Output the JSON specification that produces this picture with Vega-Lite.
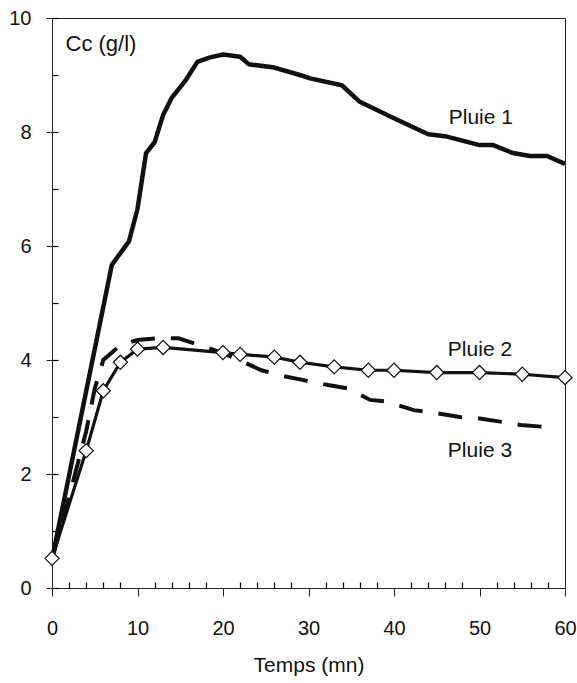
{
  "$schema": "https://vega.github.io/schema/vega-lite/v6.json",
  "width": 513,
  "height": 570,
  "autosize": "none",
  "padding": {"left": 52, "top": 18, "right": 12, "bottom": 95},
  "background": "white",
  "config": {
    "font": "Liberation Sans",
    "view": {"stroke": "#222", "strokeWidth": 1},
    "axis": {"domainColor": "#222", "tickColor": "#222", "labelColor": "#111", "titleColor": "#111", "grid": false, "domainWidth": 1, "tickWidth": 1}
  },
  "datasets": {
    "curves": [
      {"serie": "Pluie 1", "t": 0, "c": 0.5},
      {"serie": "Pluie 1", "t": 7, "c": 5.67},
      {"serie": "Pluie 1", "t": 9, "c": 6.08},
      {"serie": "Pluie 1", "t": 10, "c": 6.65},
      {"serie": "Pluie 1", "t": 11, "c": 7.63},
      {"serie": "Pluie 1", "t": 12, "c": 7.82},
      {"serie": "Pluie 1", "t": 13, "c": 8.3},
      {"serie": "Pluie 1", "t": 14, "c": 8.6},
      {"serie": "Pluie 1", "t": 15.6, "c": 8.9},
      {"serie": "Pluie 1", "t": 17, "c": 9.23},
      {"serie": "Pluie 1", "t": 18.5, "c": 9.31},
      {"serie": "Pluie 1", "t": 20, "c": 9.36},
      {"serie": "Pluie 1", "t": 22, "c": 9.32},
      {"serie": "Pluie 1", "t": 23, "c": 9.19},
      {"serie": "Pluie 1", "t": 26, "c": 9.13},
      {"serie": "Pluie 1", "t": 29, "c": 9.0},
      {"serie": "Pluie 1", "t": 30.2, "c": 8.94},
      {"serie": "Pluie 1", "t": 33.9, "c": 8.82},
      {"serie": "Pluie 1", "t": 36, "c": 8.53},
      {"serie": "Pluie 1", "t": 40, "c": 8.24},
      {"serie": "Pluie 1", "t": 44, "c": 7.96},
      {"serie": "Pluie 1", "t": 46.2, "c": 7.92},
      {"serie": "Pluie 1", "t": 50, "c": 7.77},
      {"serie": "Pluie 1", "t": 51.6, "c": 7.77},
      {"serie": "Pluie 1", "t": 53.9, "c": 7.63},
      {"serie": "Pluie 1", "t": 55.9, "c": 7.58},
      {"serie": "Pluie 1", "t": 57.9, "c": 7.58},
      {"serie": "Pluie 1", "t": 60, "c": 7.44},
      {"serie": "Pluie 2", "t": 0, "c": 0.52},
      {"serie": "Pluie 2", "t": 4, "c": 2.41},
      {"serie": "Pluie 2", "t": 6, "c": 3.46},
      {"serie": "Pluie 2", "t": 8, "c": 3.96},
      {"serie": "Pluie 2", "t": 10, "c": 4.19},
      {"serie": "Pluie 2", "t": 13, "c": 4.22},
      {"serie": "Pluie 2", "t": 20, "c": 4.13},
      {"serie": "Pluie 2", "t": 22, "c": 4.1},
      {"serie": "Pluie 2", "t": 26, "c": 4.05},
      {"serie": "Pluie 2", "t": 29, "c": 3.96},
      {"serie": "Pluie 2", "t": 33, "c": 3.88},
      {"serie": "Pluie 2", "t": 37, "c": 3.82},
      {"serie": "Pluie 2", "t": 40, "c": 3.82},
      {"serie": "Pluie 2", "t": 45, "c": 3.78},
      {"serie": "Pluie 2", "t": 50, "c": 3.78},
      {"serie": "Pluie 2", "t": 55, "c": 3.75},
      {"serie": "Pluie 2", "t": 60, "c": 3.69},
      {"serie": "Pluie 3", "t": 0, "c": 0.5},
      {"serie": "Pluie 3", "t": 2, "c": 1.6},
      {"serie": "Pluie 3", "t": 4, "c": 2.75},
      {"serie": "Pluie 3", "t": 5, "c": 3.5},
      {"serie": "Pluie 3", "t": 6, "c": 4.0},
      {"serie": "Pluie 3", "t": 8, "c": 4.26},
      {"serie": "Pluie 3", "t": 10, "c": 4.35},
      {"serie": "Pluie 3", "t": 12.4, "c": 4.38},
      {"serie": "Pluie 3", "t": 14.8, "c": 4.38},
      {"serie": "Pluie 3", "t": 17.3, "c": 4.26},
      {"serie": "Pluie 3", "t": 20, "c": 4.12},
      {"serie": "Pluie 3", "t": 22.6, "c": 3.95},
      {"serie": "Pluie 3", "t": 24.5, "c": 3.82},
      {"serie": "Pluie 3", "t": 27, "c": 3.72},
      {"serie": "Pluie 3", "t": 29, "c": 3.66},
      {"serie": "Pluie 3", "t": 32.3, "c": 3.56},
      {"serie": "Pluie 3", "t": 34.7, "c": 3.5},
      {"serie": "Pluie 3", "t": 37.2, "c": 3.3},
      {"serie": "Pluie 3", "t": 39.1, "c": 3.27},
      {"serie": "Pluie 3", "t": 42.3, "c": 3.12},
      {"serie": "Pluie 3", "t": 44.4, "c": 3.08},
      {"serie": "Pluie 3", "t": 47.7, "c": 3.0},
      {"serie": "Pluie 3", "t": 49.7, "c": 2.98},
      {"serie": "Pluie 3", "t": 52.8, "c": 2.91},
      {"serie": "Pluie 3", "t": 54.8, "c": 2.86},
      {"serie": "Pluie 3", "t": 58.2, "c": 2.82}
    ],
    "labels": [
      {"t": 46.4, "c": 8.25, "label": "Pluie 1"},
      {"t": 46.3, "c": 4.18, "label": "Pluie 2"},
      {"t": 46.3, "c": 2.41, "label": "Pluie 3"}
    ]
  },
  "resolve": {"axis": {"x": "independent", "y": "independent"}},
  "layer": [
    {
      "data": {"name": "curves"},
      "transform": [{"filter": "datum.serie === 'Pluie 3'"}],
      "mark": {"type": "line", "color": "#111", "strokeWidth": 4, "strokeDash": [24, 16]},
      "encoding": {
        "x": {"field": "t", "type": "quantitative", "scale": {"domain": [0, 60], "nice": false},
          "axis": {"orient": "bottom", "values": [0, 10, 20, 30, 40, 50, 60], "tickSize": 8, "labelFontSize": 20, "labelPadding": 22, "labelFlush": false, "labelOverlap": false, "title": "Temps (mn)", "titleFontSize": 21, "titleFontWeight": "normal", "titlePadding": 16}},
        "y": {"field": "c", "type": "quantitative", "scale": {"domain": [0, 10], "nice": false},
          "axis": {"orient": "left", "values": [0, 2, 4, 6, 8, 10], "tickSize": 6, "labelFontSize": 20, "labelPadding": 15, "labelFlush": false, "labelOverlap": false, "title": "Cc (g/l)", "titleAngle": 0, "titleAlign": "left", "titleBaseline": "middle", "titleX": 13, "titleY": 25, "titleFontSize": 22, "titleFontWeight": "normal"}}
      }
    },
    {
      "data": {"name": "curves"},
      "transform": [{"filter": "datum.serie === 'Pluie 1'"}],
      "mark": {"type": "line", "color": "#111", "strokeWidth": 4.5, "strokeJoin": "round"},
      "encoding": {
        "x": {"field": "t", "type": "quantitative", "scale": {"domain": [0, 60], "nice": false}, "axis": null},
        "y": {"field": "c", "type": "quantitative", "scale": {"domain": [0, 10], "nice": false}, "axis": null}
      }
    },
    {
      "data": {"name": "curves"},
      "transform": [{"filter": "datum.serie === 'Pluie 2'"}],
      "mark": {"type": "line", "color": "#111", "strokeWidth": 3.2, "strokeJoin": "round"},
      "encoding": {
        "x": {"field": "t", "type": "quantitative", "scale": {"domain": [0, 60], "nice": false}, "axis": null},
        "y": {"field": "c", "type": "quantitative", "scale": {"domain": [0, 10], "nice": false}, "axis": null}
      }
    },
    {
      "data": {"name": "curves"},
      "transform": [{"filter": "datum.serie === 'Pluie 2'"}],
      "mark": {"type": "point", "shape": "diamond", "size": 200, "filled": true, "fill": "white", "stroke": "#111", "strokeWidth": 1.2, "opacity": 1},
      "encoding": {
        "x": {"field": "t", "type": "quantitative", "scale": {"domain": [0, 60], "nice": false},
          "axis": {"orient": "bottom", "values": [2, 4, 6, 8, 12, 14, 16, 18, 22, 24, 26, 28, 32, 34, 36, 38, 42, 44, 46, 48, 52, 54, 56, 58], "ticks": true, "tickSize": -6, "tickColor": "#000", "tickWidth": 1.2, "labels": false, "domain": false, "title": null}},
        "y": {"field": "c", "type": "quantitative", "scale": {"domain": [0, 10], "nice": false},
          "axis": {"orient": "left", "values": [0, 1, 2, 3, 4, 5, 6, 7, 8, 9, 10], "ticks": true, "tickSize": -6, "tickColor": "#000", "tickWidth": 1.2, "labels": false, "domain": false, "title": null}}
      }
    },
    {
      "data": {"name": "labels"},
      "mark": {"type": "text", "align": "left", "baseline": "middle", "fontSize": 21, "color": "#111"},
      "encoding": {
        "x": {"field": "t", "type": "quantitative", "scale": {"domain": [0, 60], "nice": false}, "axis": null},
        "y": {"field": "c", "type": "quantitative", "scale": {"domain": [0, 10], "nice": false}, "axis": null},
        "text": {"field": "label"}
      }
    }
  ]
}
